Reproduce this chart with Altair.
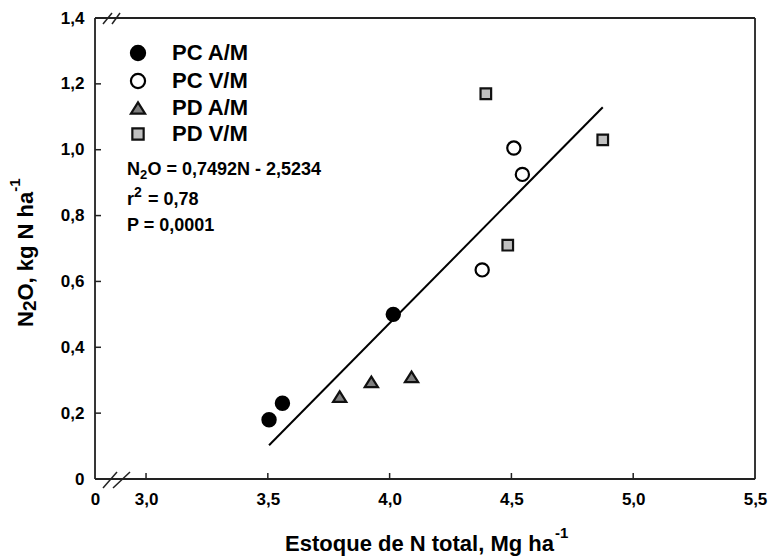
import altair as alt
import pandas as pd

# Treatment groups and their (total N stock, N2O emission) pairs
groups = ["PC A/M", "PC V/M", "PD A/M", "PD V/M"]
pc_am_x = [3.505, 3.56, 4.015]
pc_am_y = [0.18, 0.23, 0.50]
pc_vm_x = [4.38, 4.51, 4.545]
pc_vm_y = [0.635, 1.005, 0.925]
pd_am_x = [3.795, 3.925, 4.09]
pd_am_y = [0.25, 0.295, 0.31]
pd_vm_x = [4.395, 4.485, 4.875]
pd_vm_y = [1.17, 0.71, 1.03]

# Fitted regression N2O = a*N + b
slope = 0.7492
intercept = -2.5234

x_ticks = [3.0, 3.5, 4.0, 4.5, 5.0, 5.5]
y_ticks = [0.0, 0.2, 0.4, 0.6, 0.8, 1.0, 1.2, 1.4]
X_MIN = 2.7905  # left edge of the broken axis, labelled "0"

W, H = 660, 461
FONT = "Liberation Sans"
INK = "#222"

# marker outlines in the symbol unit box [-1, 1]
TRIANGLE = "M0,-0.8L1,0.8L-1,0.8Z"
SQUARE = "M-0.8,-0.8L0.8,-0.8L0.8,0.8L-0.8,0.8Z"

rows = []
for g, xs, ys in [
    (groups[0], pc_am_x, pc_am_y),
    (groups[1], pc_vm_x, pc_vm_y),
    (groups[2], pd_am_x, pd_am_y),
    (groups[3], pd_vm_x, pd_vm_y),
]:
    rows += [{"grupo": g, "N": x, "N2O": y} for x, y in zip(xs, ys)]
pts = pd.DataFrame(rows)

all_x = pc_am_x + pc_vm_x + pd_am_x + pd_vm_x
x_lo, x_hi = min(all_x), max(all_x)
fit = pd.DataFrame({"N": [x_lo, x_hi],
                    "N2O": [slope * x_lo + intercept, slope * x_hi + intercept]})

x_scale = alt.Scale(domain=[X_MIN, 5.5], nice=False, zero=False)
y_scale = alt.Scale(domain=[0, 1.4], nice=False)

x_axis = alt.Axis(
    values=[X_MIN] + x_ticks, title=None, grid=False, domain=False,
    ticks=False, tickSize=0, labelPadding=12, labelFontSize=17, labelFlush=False,
    labelFont=FONT, labelFontWeight="bold", labelColor="black",
    labelExpr="datum.value < 2.9 ? '0' : replace(format(datum.value, '.1f'), '.', ',')",
)
y_axis = alt.Axis(
    values=y_ticks, title=None, grid=False, domain=False, ticks=False,
    tickSize=0, labelPadding=11, labelFontSize=17, labelFont=FONT, labelFlush=False,
    labelFontWeight="bold", labelColor="black",
    labelExpr="datum.value == 0 ? '0' : replace(format(datum.value, '.1f'), '.', ',')",
)

legend = alt.Legend(orient="none", legendX=32, legendY=24, title=None,
                    labelFontSize=22, labelFont=FONT, labelFontWeight="bold",
                    labelColor="black", symbolSize=200, symbolStrokeWidth=2.2,
                    labelOffset=23, rowPadding=4.0, padding=0)

points = alt.Chart(pts).mark_point(filled=True, strokeWidth=2.2, opacity=1, size=175).encode(
    x=alt.X("N:Q", scale=x_scale, axis=x_axis),
    y=alt.Y("N2O:Q", scale=y_scale, axis=y_axis),
    shape=alt.Shape("grupo:N", scale=alt.Scale(domain=groups, range=["circle", "circle", TRIANGLE, SQUARE]),
                    legend=legend),
    fill=alt.Fill("grupo:N", scale=alt.Scale(domain=groups, range=["black", "white", "#7f7f7f", "#c0c0c0"]),
                  legend=legend),
    stroke=alt.Stroke("grupo:N", scale=alt.Scale(domain=groups, range=["black", "black", "#111", "#111"]),
                      legend=legend),
)

line = alt.Chart(fit).mark_line(color="black", strokeWidth=2).encode(
    x=alt.X("N:Q", scale=x_scale), y=alt.Y("N2O:Q", scale=y_scale)
)

# inward tick marks
xt = alt.Chart(pd.DataFrame({"v": x_ticks[:-1]})).mark_rule(color=INK, strokeWidth=1.5).encode(
    x=alt.X("v:Q", scale=x_scale), y=alt.value(H), y2=alt.value(H - 6)
)
yt = alt.Chart(pd.DataFrame({"v": y_ticks[1:-1]})).mark_rule(color=INK, strokeWidth=1.5).encode(
    y=alt.Y("v:Q", scale=y_scale), x=alt.value(0), x2=alt.value(6)
)


def seg(x1, y1, x2, y2, width=1.5):
    return alt.Chart(pd.DataFrame({"k": [0]})).mark_rule(color=INK, strokeWidth=width).encode(
        x=alt.value(x1), y=alt.value(y1), x2=alt.value(x2), y2=alt.value(y2)
    )


# plot frame and axis-break marks
frame = [seg(0, 0, W, 0, 1.8), seg(0, H, W, H, 1.8), seg(0, 0, 0, H, 1.8), seg(W, 0, W, H, 1.8)]
breaks = [
    seg(8, H + 9, 22, H - 7), seg(18, H + 9, 35, H - 7),
    seg(8, 6, 17, -5), seg(17, 6, 25, -5),
]


def txt(s, x, y, size, angle=0, align="left"):
    return alt.Chart(pd.DataFrame({"t": [s]})).mark_text(
        font=FONT, fontWeight="bold", fontSize=size, color="black",
        align=align, baseline="alphabetic", angle=angle,
    ).encode(text="t:N", x=alt.value(x), y=alt.value(y))


labels = [
    # regression annotation
    txt("N", 32, 157, 18), txt("2", 45, 161, 13), txt("O = 0,7492N - 2,5234", 52.5, 157, 18),
    txt("r", 32, 187, 18), txt("2", 39, 179, 14), txt("= 0,78", 53, 187, 18),
    txt("P = 0,0001", 32, 213, 18),
    # x title
    txt("Estoque de N total, Mg ha", 459, 533, 22, align="right"), txt("-1", 460, 520, 15),
    # y title (rotated)
    txt("N", -62, 309, 22, angle=270), txt("2", -59, 293.1, 19, angle=270),
    txt("O, kg N ha", -62, 282.5, 22, angle=270), txt("-1", -75, 173.7, 15, angle=270),
]

chart = alt.layer(line, points, xt, yt, *frame, *breaks, *labels).properties(
    width=W, height=H,
    autosize=alt.AutoSizeParams(type="none"),
    padding={"left": 95, "top": 18, "right": 15, "bottom": 81},
).configure_view(stroke=None).configure(background="white")

chart.save("out.html", embed_options={"renderer": "svg", "actions": False})
